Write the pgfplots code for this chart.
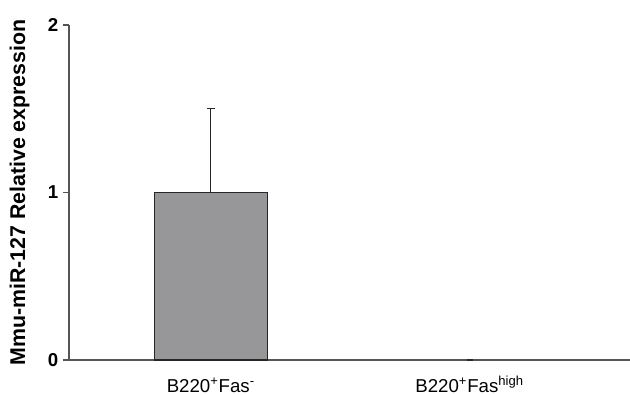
\documentclass[border=0pt]{standalone}
\usepackage{pgfplots}
\pgfplotsset{compat=1.18}
\usetikzlibrary{calc}
\usepackage{fontspec}
\setmainfont{Liberation Sans}
\definecolor{barfill}{HTML}{97979A}
\definecolor{axgray}{HTML}{555555}
\begin{document}
\begin{tikzpicture}
\begin{axis}[
  name=a,
  scale only axis,
  width=420.75pt, height=251.25pt,
  xmin=-0.548, xmax=1.62,
  ymin=0, ymax=2,
  axis x line=bottom, axis y line=left,
  axis line style={-, axgray, line width=0.9pt},
  xtick={0,1},
  xticklabels={B220\textsuperscript{+}Fas\textsuperscript{-}, B220\textsuperscript{+}Fas\textsuperscript{high}},
  x tick label style={font=\fontsize{14}{16}\selectfont, anchor=base, yshift=-20pt},
  xtick style={draw=none},
  extra x ticks={-0.548,0.456},
  extra x tick labels={},
  extra x tick style={major tick length=4.5pt, tick style={axgray, line width=0.9pt}},
  ytick={0,1,2},
  y tick label style={font=\fontsize{14}{16}\selectfont\bfseries},
  ytick style={axgray, line width=0.9pt},
  tick align=outside,
  major tick length=4.5pt,
  /pgf/number format/assume math mode=true,
  ylabel={Mmu-miR-127 Relative expression},
  ylabel style={font=\fontsize{16}{18}\selectfont\bfseries, at={(axis description cs:0,0.5)}, anchor=center, rotate=0, yshift=37pt},
  clip=false,
]
\addplot[ybar, bar width=0.436, fill=barfill, draw=black!85, line width=0.9pt,
  error bars/.cd, y dir=plus, y explicit,
  error bar style={black!85, line width=0.9pt},
  error mark options={rotate=90, mark size=3pt, black!85, line width=0.9pt}]
  coordinates {(0,1) +- (0,0.5)};
\addplot[ybar, bar width=0.02, fill=barfill, draw=black!85, line width=0.6pt]
  coordinates {(1,0.004)};
\end{axis}
\pgfresetboundingbox
\path ($(a.south west)+(-51.75pt,-26.25pt)$) rectangle ($(a.north east)+(0,18.75pt)$);
\end{tikzpicture}
\end{document}
